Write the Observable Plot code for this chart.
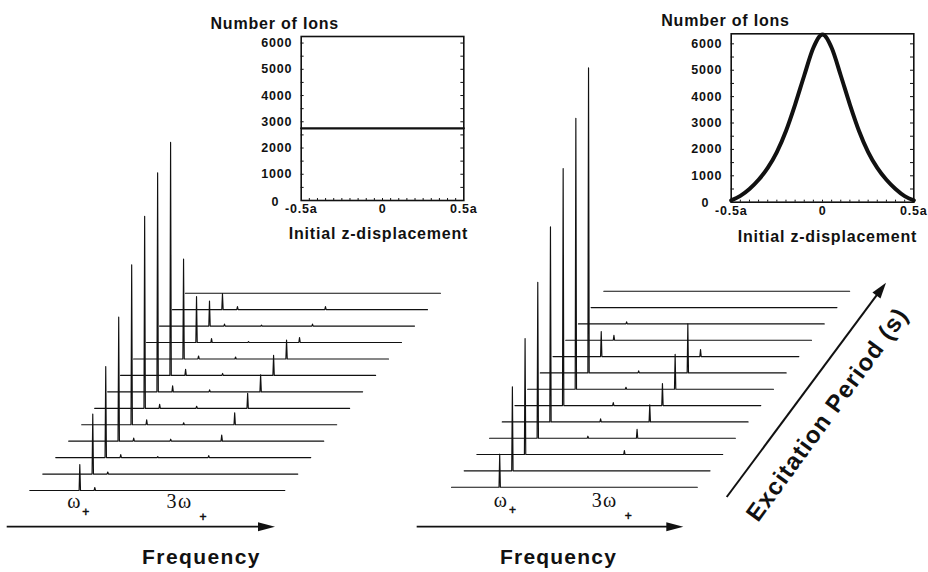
<!DOCTYPE html>
<html><head><meta charset="utf-8">
<script src="https://cdn.jsdelivr.net/npm/d3@7"></script>
<script src="https://cdn.jsdelivr.net/npm/@observablehq/plot@0.6"></script>
<style>
body{margin:0;background:#fff;}
#fig{position:relative;width:928px;height:572px;overflow:hidden;background:#fff;}
#fig > svg{position:absolute;}
</style></head><body><div id="fig"></div>
<script>
// ---------------- data ----------------
// spectra: 13 excitation periods (bottom -> top), frequency in units of the ω+ peak offset
const traceIndex = [0,1,2,3,4,5,6,7,8,9,10,11,12];
const omegaPlusPos = 1.0;
const sideBandPos = 1.3;
const secondHarmonicPos = 2.04;
const thirdHarmonicPos = 3.06;
const spectrumEnd = 5.1;

// uniform initial distribution (left)
const uniformOmegaPlus = [26, 60, 91, 124, 160, 192, 219, 233, 100, 46, 25, 16, 0];
const uniformThird     = [0, 0, 2, 6, 12, 15, 17, 20, 19, 5, 2, 3, 0];
const uniformSide      = [3, 2, 3, 3, 5, 4, 6, 6, 3, 4, 2, 3, 0];
const uniformSecond    = [0, 0, 1, 2, 2, 2, 2, 2, 2, 1, 1, 0, 0];

// gaussian initial distribution (right)
const gaussOmegaPlus = [33, 84, 116, 156, 195, 237, 271, 305, 25, 5, 2, 0, 0];
const gaussThird     = [0, 0, 4, 9, 17, 22, 35, 49, 7, 0, 0, 0, 0];
const gaussSecond    = [0, 0, 0, 2, 3, 3, 2, 2, 0, 0, 0, 0, 0];

// insets: number of ions vs initial z-displacement
const uniformZ = [-0.5, 0.5];
const uniformIons = [2750, 2750];
const gaussZ = [-0.5,-0.45,-0.4,-0.35,-0.3,-0.25,-0.2,-0.15,-0.1,-0.05,0,0.05,0.1,0.15,0.2,0.25,0.3,0.35,0.4,0.45,0.5];
const gaussIons = [70,240,500,850,1300,1900,2700,3700,4800,5850,6350,5850,4800,3700,2700,1900,1300,850,500,230,70];

const ionTicks = [0,1000,2000,3000,4000,5000,6000];
const ionMinorTicks = [500,1000,1500,2000,2500,3000,3500,4000,4500,5000,5500,6000];
const zTicks = [-0.5, 0, 0.5];
const zTickLabels = ["-0.5a", "0", "0.5a"];
const zMinorTicks = [-0.45,-0.4,-0.35,-0.3,-0.25,-0.2,-0.15,-0.1,-0.05,0,0.05,0.1,0.15,0.2,0.25,0.3,0.35,0.4,0.45];

// ---------------- helpers ----------------
const INK = "#111";
const SANS = "'Liberation Sans', Arial, Helvetica, sans-serif";
const SERIF = "'Liberation Serif', 'Times New Roman', serif";
const fig = document.getElementById("fig");
const NS = "http://www.w3.org/2000/svg";

function buildRows(peakSets, shiftX, shiftY) {
  const W = 0.014, rows = [];
  for (const k of traceIndex) {
    const peaks = peakSets.map(s => ({f: s.pos, h: s.heights[k]}))
      .filter(p => p.h > 0).sort((a, b) => a.f - b.f);
    const pts = [[0, 0]];
    for (const p of peaks) pts.push([p.f - W, 0], [p.f, p.h], [p.f + W, 0]);
    pts.push([spectrumEnd, 0]);
    for (const [f, h] of pts) rows.push({trace: k, x: f + k * shiftX, y: h + k * shiftY});
  }
  return rows;
}

// arrow with filled head, positioned through the plot scales
function arrowMark(a, {width = 1.8, head = 17, half = 4.5} = {}) {
  return (index, scales) => {
    const X1 = scales.x(a.x1), Y1 = scales.y(a.y1), X2 = scales.x(a.x2), Y2 = scales.y(a.y2);
    const dx = X2 - X1, dy = Y2 - Y1, L = Math.hypot(dx, dy), ux = dx / L, uy = dy / L;
    const bx = X2 - ux * head, by = Y2 - uy * head;
    const g = document.createElementNS(NS, "g");
    const ln = document.createElementNS(NS, "line");
    ln.setAttribute("x1", X1); ln.setAttribute("y1", Y1);
    ln.setAttribute("x2", bx + ux * 2); ln.setAttribute("y2", by + uy * 2);
    ln.setAttribute("stroke", INK); ln.setAttribute("stroke-width", width);
    const pg = document.createElementNS(NS, "polygon");
    pg.setAttribute("points", `${X2},${Y2} ${bx - uy * half},${by + ux * half} ${bx + uy * half},${by - ux * half}`);
    pg.setAttribute("fill", INK);
    g.append(ln, pg);
    return g;
  };
}

function place(svg, left, top) {
  svg.style.left = left + "px";
  svg.style.top = top + "px";
  fig.append(svg);
}

const omega = (x, y) => Plot.text(["ω"], {x, y, text: d => d, fontFamily: SERIF, fontSize: 20, fill: INK});
const plus = (x, y) => Plot.text(["+"], {x, y, text: d => d, fontFamily: SANS, fontSize: 12, fill: INK, stroke: INK, strokeWidth: 0.5});
const omega3 = (x, y) => Plot.text(["3ω"], {x, y, text: d => d, fontFamily: SERIF, fontSize: 20, fill: INK});

// ---------------- left waterfall (uniform) ----------------
const leftRows = buildRows([
  {pos: omegaPlusPos, heights: uniformOmegaPlus},
  {pos: sideBandPos, heights: uniformSide},
  {pos: secondHarmonicPos, heights: uniformSecond},
  {pos: thirdHarmonicPos, heights: uniformThird}
], 0.2594, 16.44);

const leftWaterfall = Plot.plot({
  width: 460, height: 572, margin: 0,
  x: {domain: [-0.586, 8.614], axis: null},
  y: {domain: [-82, 490], axis: null},
  style: {background: "transparent", overflow: "visible"},
  marks: [
    Plot.line(leftRows, {x: "x", y: "y", z: "trace", stroke: INK, strokeWidth: 1.15}),
    arrowMark({x1: -0.452, y1: -36.7, x2: 4.914, y2: -36.7}),
    omega(0.894, -11), plus(1.134, -22),
    omega3(2.994, -11), plus(3.48, -27),
    Plot.text(["Frequency"], {x: 3.434, y: -67, text: d => d, fontFamily: SANS, fontSize: 21, fontWeight: "bold", fill: INK})
  ]
});
leftWaterfall.style.letterSpacing = "1.4px";
place(leftWaterfall, 0, 0);

// ---------------- right waterfall (gaussian) ----------------
const rightRows = buildRows([
  {pos: omegaPlusPos, heights: gaussOmegaPlus},
  {pos: secondHarmonicPos, heights: gaussSecond},
  {pos: thirdHarmonicPos, heights: gaussThird}
], 0.2633, 16.33);

const rightWaterfall = Plot.plot({
  width: 528, height: 572, margin: 0,
  x: {domain: [-1.058, 9.896], axis: null},
  y: {domain: [-85.3, 486.7], axis: null},
  style: {background: "transparent", overflow: "visible"},
  marks: [
    Plot.line(rightRows, {x: "x", y: "y", z: "trace", stroke: INK, strokeWidth: 1.15}),
    arrowMark({x1: -0.712, y1: -40, x2: 4.82, y2: -40}),
    arrowMark({x1: 5.72, y1: -10.3, x2: 9.025, y2: 204}, {width: 2, head: 16, half: 5}),
    omega(1.027, -13.3), plus(1.28, -23.3),
    omega3(3.174, -13.3), plus(3.678, -28.8),
    Plot.text(["Frequency"], {x: 2.22, y: -70.3, text: d => d, fontFamily: SANS, fontSize: 21, fontWeight: "bold", fill: INK}),
    Plot.text(["Excitation Period (s)"], {x: 7.8, y: 72.7, text: d => d, rotate: -54, fontFamily: SANS, fontSize: 24, fontWeight: "bold", fill: INK})
  ]
});
rightWaterfall.style.letterSpacing = "1.2px";
place(rightWaterfall, 400, 0);

// ---------------- insets ----------------
const zLabel = new Map(zTicks.map((t, i) => [t, zTickLabels[i]]));
function inset({width, height, mL, mR, mT, mB, yMax, z, ions, lineWidth, curve, titleDx, xLabelDx, xLabelDy}) {
  const svg = Plot.plot({
    width, height, marginLeft: mL, marginRight: mR, marginTop: mT, marginBottom: mB,
    style: {background: "transparent", overflow: "visible", fontFamily: SANS, fontSize: "12.5px", fontWeight: "bold", color: INK},
    x: {domain: [-0.5, 0.5], ticks: zTicks, tickFormat: d => zLabel.get(d), tickSize: 0, tickPadding: 4, label: null},
    y: {domain: [0, yMax], axis: null},
    marks: [
      Plot.ruleY(ionMinorTicks, {x1: -0.5, x2: -0.482, stroke: INK, strokeWidth: 1}),
      Plot.ruleY(ionMinorTicks, {x1: 0.482, x2: 0.5, stroke: INK, strokeWidth: 1}),
      Plot.ruleX(zMinorTicks, {y1: 0, y2: yMax * 0.012, stroke: INK, strokeWidth: 1}),
      Plot.frame({stroke: INK, strokeWidth: 1.6}),
      Plot.line(z.map((v, i) => ({z: v, n: ions[i]})), {x: "z", y: "n", stroke: INK, strokeWidth: lineWidth, curve}),
      // y tick labels (the "0" sits further left, as in the original)
      Plot.text(ionTicks.filter(t => t > 0), {x: -0.5, y: d => d, text: d => String(d), dx: -9, textAnchor: "end", fill: INK}),
      Plot.text(ionTicks.filter(t => t === 0), {x: -0.5, y: d => d, text: d => String(d), dx: -22, dy: 1, textAnchor: "end", fill: INK}),
      Plot.text(["Number of Ions"], {frameAnchor: "top-left", dx: titleDx, dy: -19, textAnchor: "start", text: d => d, fontSize: 16, fontWeight: "bold", fill: INK}),
      Plot.text(["Initial z-displacement"], {frameAnchor: "bottom", dx: xLabelDx, dy: xLabelDy, text: d => d, fontSize: 16, fontWeight: "bold", fill: INK})
    ]
  });
  svg.style.letterSpacing = "0.8px";
  return svg;
}

place(inset({width: 280, height: 260, mL: 100.7, mR: 16.7, mT: 36, mB: 60, yMax: 6250,
  z: uniformZ, ions: uniformIons, lineWidth: 2.2, curve: "linear", titleDx: -90.7, xLabelDx: -4, xLabelDy: 38}), 200, 0);

place(inset({width: 288, height: 260, mL: 90.7, mR: 14.7, mT: 33.3, mB: 58.3, yMax: 6380,
  z: gaussZ, ions: gaussIons, lineWidth: 4, curve: "monotone-x", titleDx: -70, xLabelDx: 5, xLabelDy: 40}), 640, 0);
</script>
</body></html>
